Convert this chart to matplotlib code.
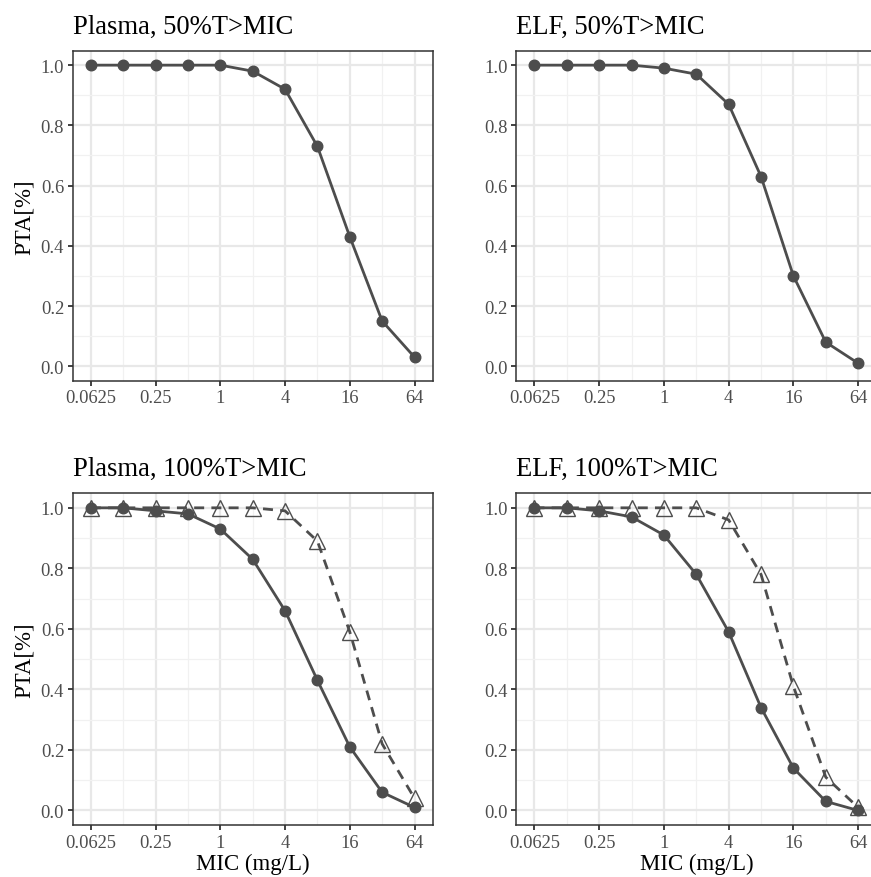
import numpy as np
import matplotlib
matplotlib.use("Agg")
import matplotlib.pyplot as plt
from matplotlib.ticker import FixedLocator, FixedFormatter, NullFormatter

plt.rcParams['font.family'] = ['Liberation Serif', 'DejaVu Serif']

# --- data ---
mic = [0.0625, 0.125, 0.25, 0.5, 1, 2, 4, 8, 16, 32, 64]
tick_vals = [0.0625, 0.25, 1, 4, 16, 64]
tick_labels = ['0.0625', '0.25', '1', '4', '16', '64']

plasma_50 = [1.00, 1.00, 1.00, 1.00, 1.00, 0.98, 0.92, 0.73, 0.43, 0.15, 0.03]
elf_50 = [1.00, 1.00, 1.00, 1.00, 0.99, 0.97, 0.87, 0.63, 0.30, 0.08, 0.01]
plasma_100_a = [1.00, 1.00, 0.99, 0.98, 0.93, 0.83, 0.66, 0.43, 0.21, 0.06, 0.01]
plasma_100_b = [1.00, 1.00, 1.00, 1.00, 1.00, 1.00, 0.99, 0.89, 0.59, 0.22, 0.04]
elf_100_a = [1.00, 1.00, 0.99, 0.97, 0.91, 0.78, 0.59, 0.34, 0.14, 0.03, 0.00]
elf_100_b = [1.00, 1.00, 1.00, 1.00, 1.00, 1.00, 0.96, 0.78, 0.41, 0.11, 0.01]

titles = ['Plasma, 50%T>MIC', 'ELF, 50%T>MIC', 'Plasma, 100%T>MIC', 'ELF, 100%T>MIC']

LINE = '#4d4d4d'

fig = plt.figure(figsize=(8.71, 8.78), dpi=100)
W, H = 871, 878
aw = 360.3 / W
positions = [
    (72.7 / W, 1 - 381.7 / H, aw, 330.0 / H),
    (516.3 / W, 1 - 381.7 / H, aw, 330.0 / H),
    (72.7 / W, 1 - 826.0 / H, aw, 331.7 / H),
    (516.3 / W, 1 - 826.0 / H, aw, 331.7 / H),
]


def style_axis(ax, title, left, bottom):
    ax.set_xscale('log', base=2)
    ax.set_xlim(2 ** -4.56, 2 ** 6.57)
    ax.set_ylim(-0.048, 1.048)
    ax.xaxis.set_major_locator(FixedLocator(tick_vals))
    ax.xaxis.set_major_formatter(FixedFormatter(tick_labels))
    ax.xaxis.set_minor_locator(FixedLocator([0.125, 0.5, 2, 8, 32]))
    ax.xaxis.set_minor_formatter(NullFormatter())
    ax.set_yticks([0, 0.2, 0.4, 0.6, 0.8, 1.0])
    ax.set_yticklabels(['0.0', '0.2', '0.4', '0.6', '0.8', '1.0'])
    ax.set_yticks([0.1, 0.3, 0.5, 0.7, 0.9], minor=True)
    ax.grid(True, which='major', color='#e8e8e8', linewidth=1.6, zorder=0)
    ax.grid(True, which='minor', color='#f1f1f1', linewidth=0.9, zorder=0)
    ax.set_axisbelow(True)
    ax.tick_params(which='major', length=3.6, width=1.3, color='#333333',
                   labelsize=13.3, labelcolor='#4d4d4d', pad=2.6)
    ax.tick_params(which='minor', length=0)
    for s in ax.spines.values():
        s.set_color('#333333')
        s.set_linewidth(1.1)
    ax.set_title(title, loc='left', fontsize=19.2, pad=13, color='black')
    if left:
        ax.set_ylabel('PTA[%]', fontsize=16.5)
        ax.yaxis.set_label_coords(-0.105, 0.5)
    if bottom:
        ax.set_xlabel('MIC (mg/L)', fontsize=16.5)
        ax.xaxis.set_label_coords(0.5, -0.085)


axes = [fig.add_axes(p) for p in positions]

# single-curve panels
for ax, vals in [(axes[0], plasma_50), (axes[1], elf_50)]:
    ax.plot(mic, vals, color=LINE, linewidth=2.0, marker='o', markersize=7.6,
            markerfacecolor=LINE, markeredgecolor=LINE, zorder=3)

# two-curve panels
for ax, a, b in [(axes[2], plasma_100_a, plasma_100_b), (axes[3], elf_100_a, elf_100_b)]:
    ax.plot(mic, b, color=LINE, linewidth=2.0, linestyle=(0, (3.6, 2.6)), marker='^',
            markersize=11, markerfacecolor='none', markeredgecolor=LINE,
            markeredgewidth=1.0, zorder=3)
    ax.plot(mic, a, color=LINE, linewidth=2.0, marker='o', markersize=7.6,
            markerfacecolor=LINE, markeredgecolor=LINE, zorder=4)

for i, ax in enumerate(axes):
    style_axis(ax, titles[i], left=(i % 2 == 0), bottom=(i >= 2))

fig.savefig('out.png', dpi=100, facecolor='white')
